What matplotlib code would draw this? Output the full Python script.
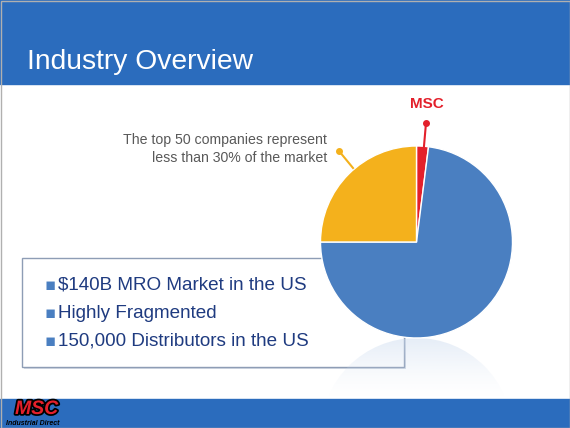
import matplotlib.pyplot as plt
import matplotlib.patheffects as pe
import numpy as np
from matplotlib.patches import Rectangle, Circle

# pie data (clockwise from the top)
labels = ["MSC", "Other distributors", "Top 50 companies"]
shares = [2, 73, 25]
colors = ["#E3202B", "#4A7FC1", "#F4B11C"]

bullets = ["$140B MRO Market in the US", "Highly Fragmented",
           "150,000 Distributors in the US"]
note = "The top 50 companies represent\nless than 30% of the market"

W, H = 570, 428
fig = plt.figure(figsize=(W / 100, H / 100), dpi=100)
ax = fig.add_axes([0, 0, 1, 1])
ax.set_xlim(0, W)
ax.set_ylim(0, H)
ax.axis("off")

def py(y):
    # pixel row (from top) -> data y
    return H - y

header = "#2B6CBD"
ax.add_patch(Rectangle((0, py(84)), W, 84, color=header, zorder=1))
ax.add_patch(Rectangle((0, 0), W, py(399), color=header, zorder=1))
ax.add_patch(Rectangle((0.5, 0.5), W - 1, H - 1, fill=False, ec="#B0B0B0", lw=1, zorder=6))
ax.text(27, py(62), "Industry Overview", color="white", fontsize=20.3,
        family="Liberation Sans", va="center", ha="left", zorder=2)

# text box with soft shadow
ax.add_patch(Rectangle((24, py(369)), 382, 110, fc="#D5DCE6", ec="none", zorder=1))
ax.add_patch(Rectangle((22, py(367)), 382, 109, fc="white", ec="#8E9DB5", lw=1, zorder=2))
for i, b in enumerate(bullets):
    y = py(285 + i * 28)
    ax.text(45, y, "\u25aa", color="#4A7FC1", fontsize=12, va="center", zorder=3)
    ax.text(58, y, b, color="#1F3B80", fontsize=13.6, family="Liberation Sans",
            va="center", zorder=3)

# reflection under the pie
cx, cy, r = 416.5, py(242), 96
yy = np.linspace(0, 1, 100)[:, None] * np.ones((1, 10))
grad = np.zeros((100, 10, 4))
grad[..., 0:3] = np.array([0.80, 0.86, 0.94])
grad[..., 3] = 0.5 * (1 - yy) ** 1.5
im = ax.imshow(grad, extent=(cx - r, cx + r, py(399), py(338)), origin="upper",
               aspect="auto", zorder=2)
im.set_clip_path(Circle((cx, py(434)), r, transform=ax.transData))

wedges, _ = ax.pie(shares, colors=colors, startangle=90, counterclock=False,
                   center=(cx, cy), radius=r, frame=True,
                   wedgeprops=dict(edgecolor="white", linewidth=1))
for w in wedges:
    w.set_zorder(4)
ax.set_xlim(0, W)
ax.set_ylim(0, H)
ax.set_aspect("equal")
ax.axis("off")

# callouts
ax.plot([426, 424], [py(123), py(146)], color=colors[0], lw=1.5, zorder=5)
ax.plot([426], [py(123)], "o", color=colors[0], ms=4, zorder=5)
ax.text(427, py(104), "MSC", color=colors[0], fontsize=11, fontweight="bold",
        family="Liberation Sans", ha="center", va="center", zorder=5)
ax.plot([339, 353], [py(151), py(168)], color=colors[2], lw=1.5, zorder=5)
ax.plot([339], [py(151)], "o", color=colors[2], ms=4, zorder=5)
ax.text(327, py(149), note, color="#595959", fontsize=10.2, family="Liberation Sans",
        ha="right", va="center", linespacing=1.3, zorder=5)

# logo
ax.text(15, py(409.5), "MSC", color="#E3202B", fontsize=14, fontweight="bold",
        fontstyle="italic", family="Liberation Sans", va="center", zorder=3,
        path_effects=[pe.withStroke(linewidth=2.5, foreground="black")])
ax.text(6, py(423.5), "Industrial Direct", color="black", fontsize=5, fontweight="bold",
        fontstyle="italic", family="Liberation Sans", va="center", zorder=3)

fig.savefig("out.png", dpi=100)
